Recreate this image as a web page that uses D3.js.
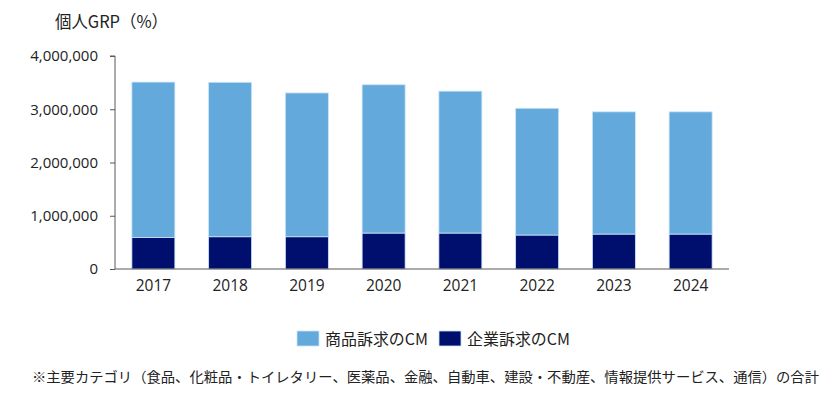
<!DOCTYPE html>
<html><head><meta charset="utf-8">
<script src="https://cdn.jsdelivr.net/npm/d3@7"></script>
<style>
body{margin:0;background:#fff;}
svg{display:block;}
text{font-family:"Noto Sans CJK JP","Noto Sans",sans-serif;fill:#222;}
</style></head><body>
<svg id="c" width="827" height="394"></svg>
<script>
const years = ["2017","2018","2019","2020","2021","2022","2023","2024"];
const productCM = [2920000, 2900000, 2700000, 2785000, 2665000, 2380000, 2295000, 2295000];
const corporateCM = [590000, 606000, 606000, 675000, 675000, 638000, 656000, 656000];
const yTicks = [0, 1000000, 2000000, 3000000, 4000000];
const seriesNames = ["商品訴求のCM", "企業訴求のCM"];
const colors = ["#64A9DB", "#000E6E"];
const title = "個人GRP（%）";
const note = "※主要カテゴリ（食品、化粧品・トイレタリー、医薬品、金融、自動車、建設・不動産、情報提供サービス、通信）の合計";

const svg = d3.select("#c");
const m = {left:115, right:98, top:56, bottom:125};
const W = 827, H = 394;
const x = d3.scaleBand().domain(years).range([m.left, W - m.right]).paddingInner(0.44).paddingOuter(0.22);
const y = d3.scaleLinear().domain([0, 4000000]).range([H - m.bottom, m.top]);

const data = years.map((yr,i)=>({year:yr, corp:corporateCM[i], prod:productCM[i]}));
const stack = d3.stack().keys(["corp","prod"])(data);
const colorFor = {corp:colors[1], prod:colors[0]};

svg.append("g").selectAll("g").data(stack).join("g")
  .attr("fill", d=>colorFor[d.key])
  .selectAll("rect").data(d=>d).join("rect")
  .attr("x", d=>x(d.data.year))
  .attr("width", x.bandwidth())
  .attr("y", d=>y(d[1]))
  .attr("height", d=>y(d[0]) - y(d[1]))
  .attr("stroke", "#c9e3f7").attr("stroke-width", 0.8);

const numFont = "'Open Sans','Noto Sans',sans-serif";
// y axis
const ya = svg.append("g").attr("transform",`translate(${m.left},0)`)
  .call(d3.axisLeft(y).tickValues(yTicks).tickSize(5).tickPadding(12).tickFormat(d3.format(",")));
ya.select(".domain").attr("stroke","#595959").attr("d",`M-5,${y(4000000)}H0V${y(0)}`);
ya.selectAll(".tick line").attr("stroke","#595959");
ya.selectAll("text").style("font-family",numFont).style("font-size","15px").attr("fill","#222");

// x axis
const xa = svg.append("g").attr("transform",`translate(0,${y(0)})`)
  .call(d3.axisBottom(x).tickSize(0).tickPadding(11));
xa.select(".domain").attr("stroke","#595959").attr("stroke-width",1.2).attr("d",`M${m.left},0H${W-m.right}`);
xa.selectAll("text").style("font-family",numFont).style("font-size","15.5px").attr("fill","#222");

// title
svg.append("text").attr("x",55).attr("y",28).style("font-size","17px")
  .attr("textLength",113).attr("lengthAdjust","spacingAndGlyphs").text(title);

// legend
const lg = [{x:297, name:seriesNames[0], c:colors[0]},{x:439, name:seriesNames[1], c:colors[1]}];
const L = svg.append("g");
L.selectAll("rect").data(lg).join("rect")
  .attr("x",d=>d.x).attr("y",331).attr("width",22).attr("height",15).attr("fill",d=>d.c)
  .attr("stroke","#c9e3f7").attr("stroke-width",0.8);
L.selectAll("text").data(lg).join("text")
  .attr("x",d=>d.x+28).attr("y",345).style("font-size","15.5px")
  .attr("textLength",103).attr("lengthAdjust","spacingAndGlyphs").text(d=>d.name);

// note
svg.append("text").attr("x",32).attr("y",382).style("font-size","14px")
  .attr("textLength",787).attr("lengthAdjust","spacingAndGlyphs").text(note);
</script>
</body></html>
